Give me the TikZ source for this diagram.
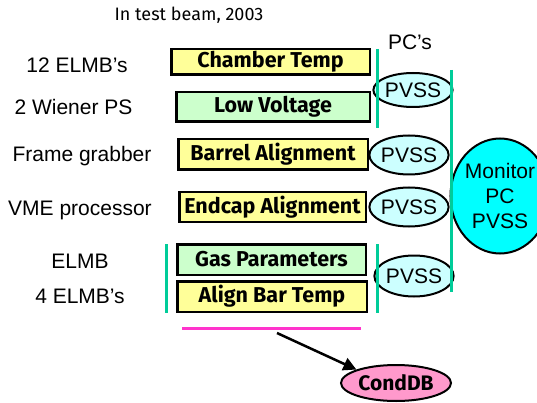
\documentclass[tikz,border=0pt]{standalone}
\usepackage{fontspec}
\setmainfont{Liberation Sans}
\newfontfamily\comicfont{Fira Sans}
\usetikzlibrary{shapes.geometric}
\usetikzlibrary{arrows.meta}
\tikzset{srcbox/.style = {draw, line width=2.5pt, inner sep=0,
                          font=\comicfont\bfseries\fontsize{21.5}{24}\selectfont}}
\tikzset{pvss/.style = {draw, ellipse, line width=2pt, inner sep=0, fill=lcyan,
                        font=\fontsize{21}{25}\selectfont}}
\tikzset{lbl/.style = {anchor=base, inner sep=0, font=\fontsize{21}{25}\selectfont}}
\tikzset{pcbar/.style = {draw=mteal, line width=3pt}}
\definecolor{myellow}{HTML}{FFFF99}
\definecolor{mgreen}{HTML}{CCFFCC}
\definecolor{lcyan}{HTML}{CCFFFF}
\definecolor{mcyan}{HTML}{00FFFF}
\definecolor{mpink}{HTML}{FF99CC}
\definecolor{mmagenta}{HTML}{FF33CC}
\definecolor{mteal}{HTML}{00CC99}

\begin{document}
\begin{tikzpicture}[x=1pt, y=-1pt]
      \useasboundingbox (0, 0) rectangle (537, 403);
      \node [anchor=base, inner sep=0, font=\comicfont\fontsize{18}{20}\selectfont] (title) at (189, 21) {In test beam, 2003};

      % sources
      \node [lbl] (elmbs) at (77, 73) {12 ELMB’s};
      \node [lbl] (wiener) at (73.5, 115) {2 Wiener PS};
      \node [lbl] (frame) at (82, 162) {Frame grabber};
      \node [lbl] (vme) at (80, 215) {VME processor};
      \node [lbl] (elmb) at (80, 268) {ELMB};
      \node [lbl] (elmbs4) at (80, 303) {4 ELMB’s};

      % subsystems
      \node [srcbox, fill=myellow, minimum width=198.5, minimum height=25.5] (chamber) at (270.5, 62) {Chamber Temp};
      \node [srcbox, fill=mgreen, minimum width=193.5, minimum height=29.5] (lowvolt) at (273, 107) {Low Voltage};
      \node [srcbox, fill=myellow, minimum width=189.5, minimum height=30.5] (barrel) at (273, 154.5) {Barrel Alignment};
      \node [srcbox, fill=myellow, minimum width=186.5, minimum height=29.5] (endcap) at (272.5, 207) {Endcap Alignment};
      \node [srcbox, fill=mgreen, minimum width=188.5, minimum height=30.5] (gas) at (271.5, 259.5) {Gas Parameters};
      \node [srcbox, fill=myellow, minimum width=189.5, minimum height=30.5] (alignbar) at (272, 296.5) {Align Bar Temp};

      % PCs
      \node [lbl] (pcs) at (410, 50) {PC’s};
      \node [pvss, minimum width=68, minimum height=34] (pvssa) at (413, 90) {PVSS};
      \node [pvss, minimum width=72, minimum height=39] (pvssb) at (409, 155) {PVSS};
      \node [pvss, minimum width=72, minimum height=39] (pvssc) at (409, 207) {PVSS};
      \node [pvss, minimum width=73, minimum height=41] (pvssd) at (414, 276) {PVSS};
      \node [pvss, fill=mcyan, minimum width=88, minimum height=115, align=center] (monitor) at (500, 196) {Monitor\\PC\\PVSS};

      \draw [pcbar] (377, 49) -- (377, 128);
      \draw [pcbar] (451, 70) -- (451, 292);
      \draw [pcbar] (166, 244) -- (166, 313);
      \draw [pcbar] (377, 244) -- (377, 313);
      \draw [draw=mmagenta, line width=3pt] (182, 328) -- (361, 328);

      \node [draw, ellipse, line width=2pt, inner sep=0, fill=mpink, minimum width=110, minimum height=36,
             font=\comicfont\bfseries\fontsize{21}{24}\selectfont] (conddb) at (396, 383) {CondDB};
      \coordinate (dbstart) at (277, 333);
      \draw [line width=2.5pt, -{Triangle[length=13pt, width=13pt]}] (dbstart) -- (conddb.north west);
    \end{tikzpicture}
\end{document}
